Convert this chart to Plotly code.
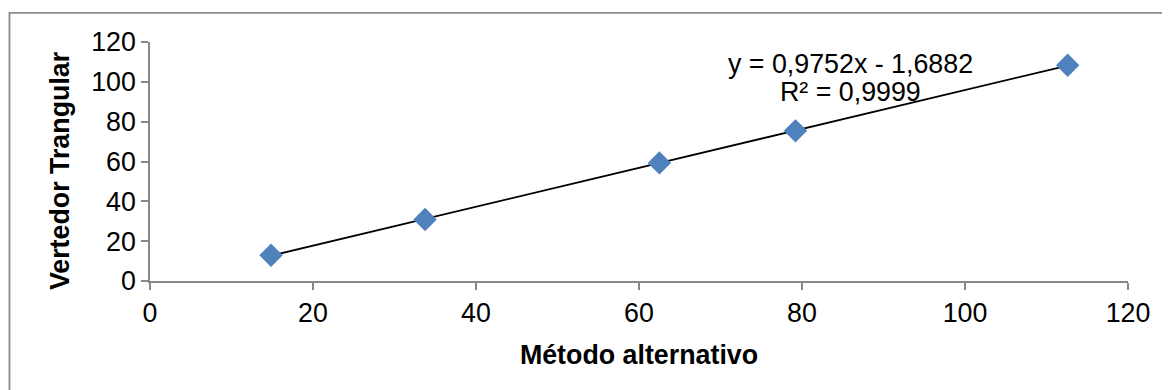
import numpy as np
import plotly.graph_objects as go

# Data
metodo_alternativo = [14.85, 33.75, 62.5, 79.2, 112.6]
vertedor_triangular = [12.9, 30.9, 59.3, 75.4, 108.3]
eq_text = "y = 0,9752x - 1,6882"
r2_text = "R² = 0,9999"
x_ticks = [0, 20, 40, 60, 80, 100, 120]
y_ticks = [0, 20, 40, 60, 80, 100, 120]

FONT = "Liberation Sans, Arial, sans-serif"
FS = 26.8
OFF = 8  # browser default body margin
W, H = 1170 - OFF, 390 - OFF
# plot area in page pixels: x 150..1127.7, y 41.7..281
L, R, T, B = 150 - OFF, 1170 - 1127.7, 41.7 - OFF, 390 - 281
pw, ph = W - L - R, H - T - B


def px(xp):
    return (xp - OFF - L) / pw


def py(yp):
    return (H - B - (yp - OFF)) / ph


# Linear trendline computed from the data
slope, intercept = np.polyfit(metodo_alternativo, vertedor_triangular, 1)
tx = np.array([min(metodo_alternativo), max(metodo_alternativo)])
ty = slope * tx + intercept

fig = go.Figure()
fig.add_trace(go.Scatter(
    x=tx, y=ty, mode="lines",
    line=dict(color="black", width=1.8),
    showlegend=False, hoverinfo="skip",
))
fig.add_trace(go.Scatter(
    x=metodo_alternativo, y=vertedor_triangular, mode="markers",
    marker=dict(symbol="diamond", size=18, color="#4F81BD", line=dict(width=0)),
    showlegend=False,
))

axis_common = dict(
    showgrid=False, zeroline=False, showline=True,
    linecolor="#888888", linewidth=1.5,
    ticks="outside", ticklen=7, tickwidth=1.5, tickcolor="#888888",
    tickfont=dict(family=FONT, size=FS, color="black"),
    range=[0, 120], fixedrange=True, automargin=False,
)

fig.update_layout(
    width=W, height=H,
    margin=dict(l=L, r=R, t=T, b=B, pad=0),
    paper_bgcolor="white", plot_bgcolor="white",
    xaxis=dict(**axis_common, tickvals=x_ticks,
               title=dict(text="<b>Método alternativo</b>",
                          font=dict(family=FONT, size=FS, color="black"),
                          standoff=18)),
    yaxis=dict(**axis_common, tickvals=y_ticks),
    font=dict(family=FONT, color="black"),
)

# Y axis title placed as in the reference
fig.add_annotation(x=px(60), y=py(170), xref="paper", yref="paper",
                   text="<b>Vertedor Trangular</b>", textangle=-90, showarrow=False,
                   font=dict(family=FONT, size=FS, color="black"),
                   xanchor="center", yanchor="middle")

# Outer chart border (left and top edges visible in reference)
fig.add_shape(type="rect", xref="paper", yref="paper",
              x0=px(9.5), x1=1.2, y0=-1.0, y1=py(12.5),
              line=dict(color="#8a8a8a", width=1.8), layer="below")

# Trendline equation labels
fig.add_annotation(x=px(850), y=py(64), xref="paper", yref="paper",
                   text=eq_text, showarrow=False,
                   font=dict(family=FONT, size=FS, color="black"),
                   xanchor="center", yanchor="middle")
fig.add_annotation(x=px(850), y=py(92), xref="paper", yref="paper",
                   text=r2_text, showarrow=False,
                   font=dict(family=FONT, size=FS, color="black"),
                   xanchor="center", yanchor="middle")

fig.write_html("out.html")
